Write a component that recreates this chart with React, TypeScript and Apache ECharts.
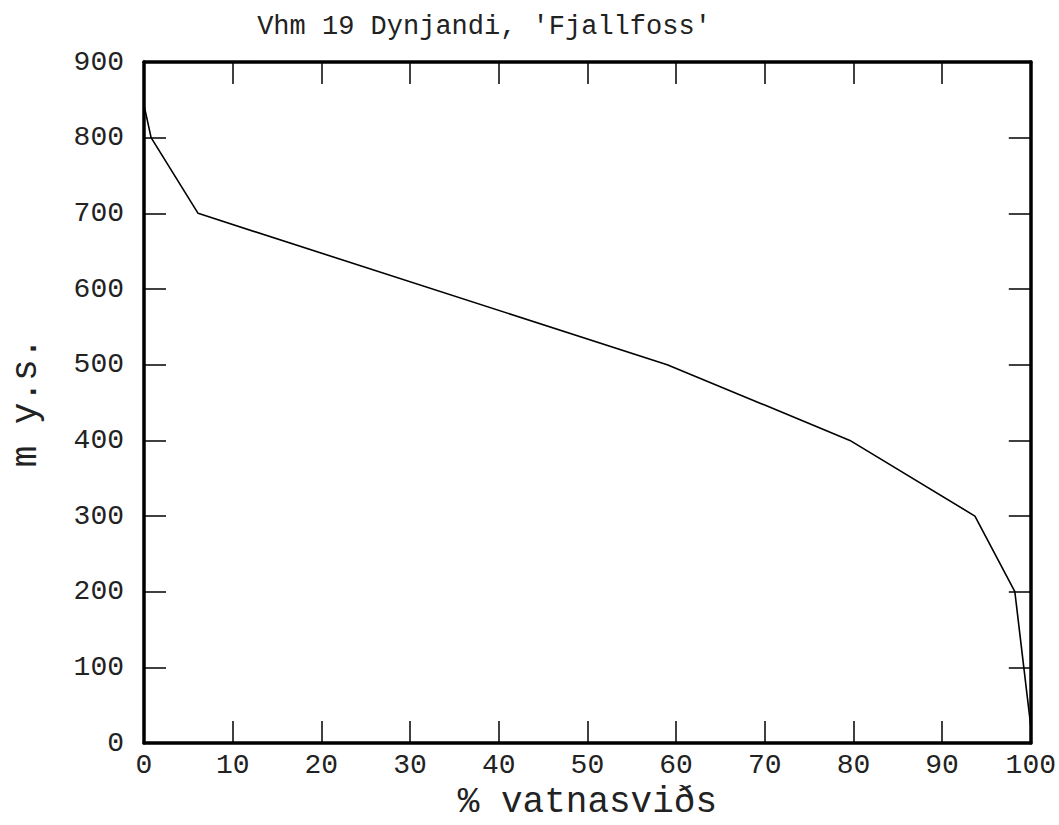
import React, { useEffect, useRef } from "react";
import * as echarts from "echarts";

const titleText = "Vhm 19 Dynjandi, 'Fjallfoss'";
const xName = "% vatnasviðs";
const yName = "m y.s.";
const percentArea = [0, 0.8, 6.1, 59, 79.6, 93.7, 98.2, 100];
const elevation = [843, 800, 700, 500, 400, 300, 200, 22];

const FONT = "Liberation Mono";

export default function App() {
  const ref = useRef<HTMLDivElement>(null);
  useEffect(() => {
    document.body.style.margin = "0";
    const chart = echarts.init(ref.current!, null, { renderer: "svg" });
    const axisLine = { show: true, onZero: false, lineStyle: { color: "#000", width: 3.5 } };
    const axisTick = { show: true, inside: true, length: 22, lineStyle: { color: "#000", width: 1.5 } };
    const labelStyle = { color: "#222", fontFamily: FONT, fontSize: 28 };
    chart.setOption({
      animation: false,
      backgroundColor: "#fff",
      title: {
        text: titleText,
        left: 479,
        top: 8,
        textAlign: "center",
        textStyle: { fontFamily: FONT, fontSize: 27, fontWeight: "normal", color: "#222" },
      },
      grid: { left: 132, right: 27, top: 62, bottom: 80, containLabel: false },
      xAxis: [
        {
          type: "value", min: 0, max: 100, interval: 10, position: "bottom",
          axisLine, axisTick, splitLine: { show: false },
          axisLabel: { ...labelStyle, margin: 8 },
          name: xName, nameLocation: "middle", nameGap: 40,
          nameTextStyle: { fontFamily: FONT, fontSize: 36, color: "#222" },
        },
        {
          type: "value", min: 0, max: 100, interval: 10, position: "top",
          axisLine, axisTick, splitLine: { show: false }, axisLabel: { show: false },
        },
      ],
      yAxis: [
        {
          type: "value", min: 0, max: 900, interval: 100, position: "left",
          axisLine, axisTick, splitLine: { show: false },
          axisLabel: { ...labelStyle, margin: 20 },
          name: yName, nameLocation: "middle", nameGap: 100, nameRotate: 90,
          nameTextStyle: { fontFamily: FONT, fontSize: 36, color: "#222" },
        },
        {
          type: "value", min: 0, max: 900, interval: 100, position: "right",
          axisLine, axisTick, splitLine: { show: false }, axisLabel: { show: false },
        },
      ],
      series: [
        {
          type: "line",
          data: percentArea.map((x, i) => [x, elevation[i]]),
          showSymbol: false,
          lineStyle: { color: "#000", width: 1.6 },
          xAxisIndex: 0, yAxisIndex: 0,
        },
      ],
    });
    return () => chart.dispose();
  }, []);
  return <div ref={ref} style={{ width: 1059, height: 825 }} />;
}
